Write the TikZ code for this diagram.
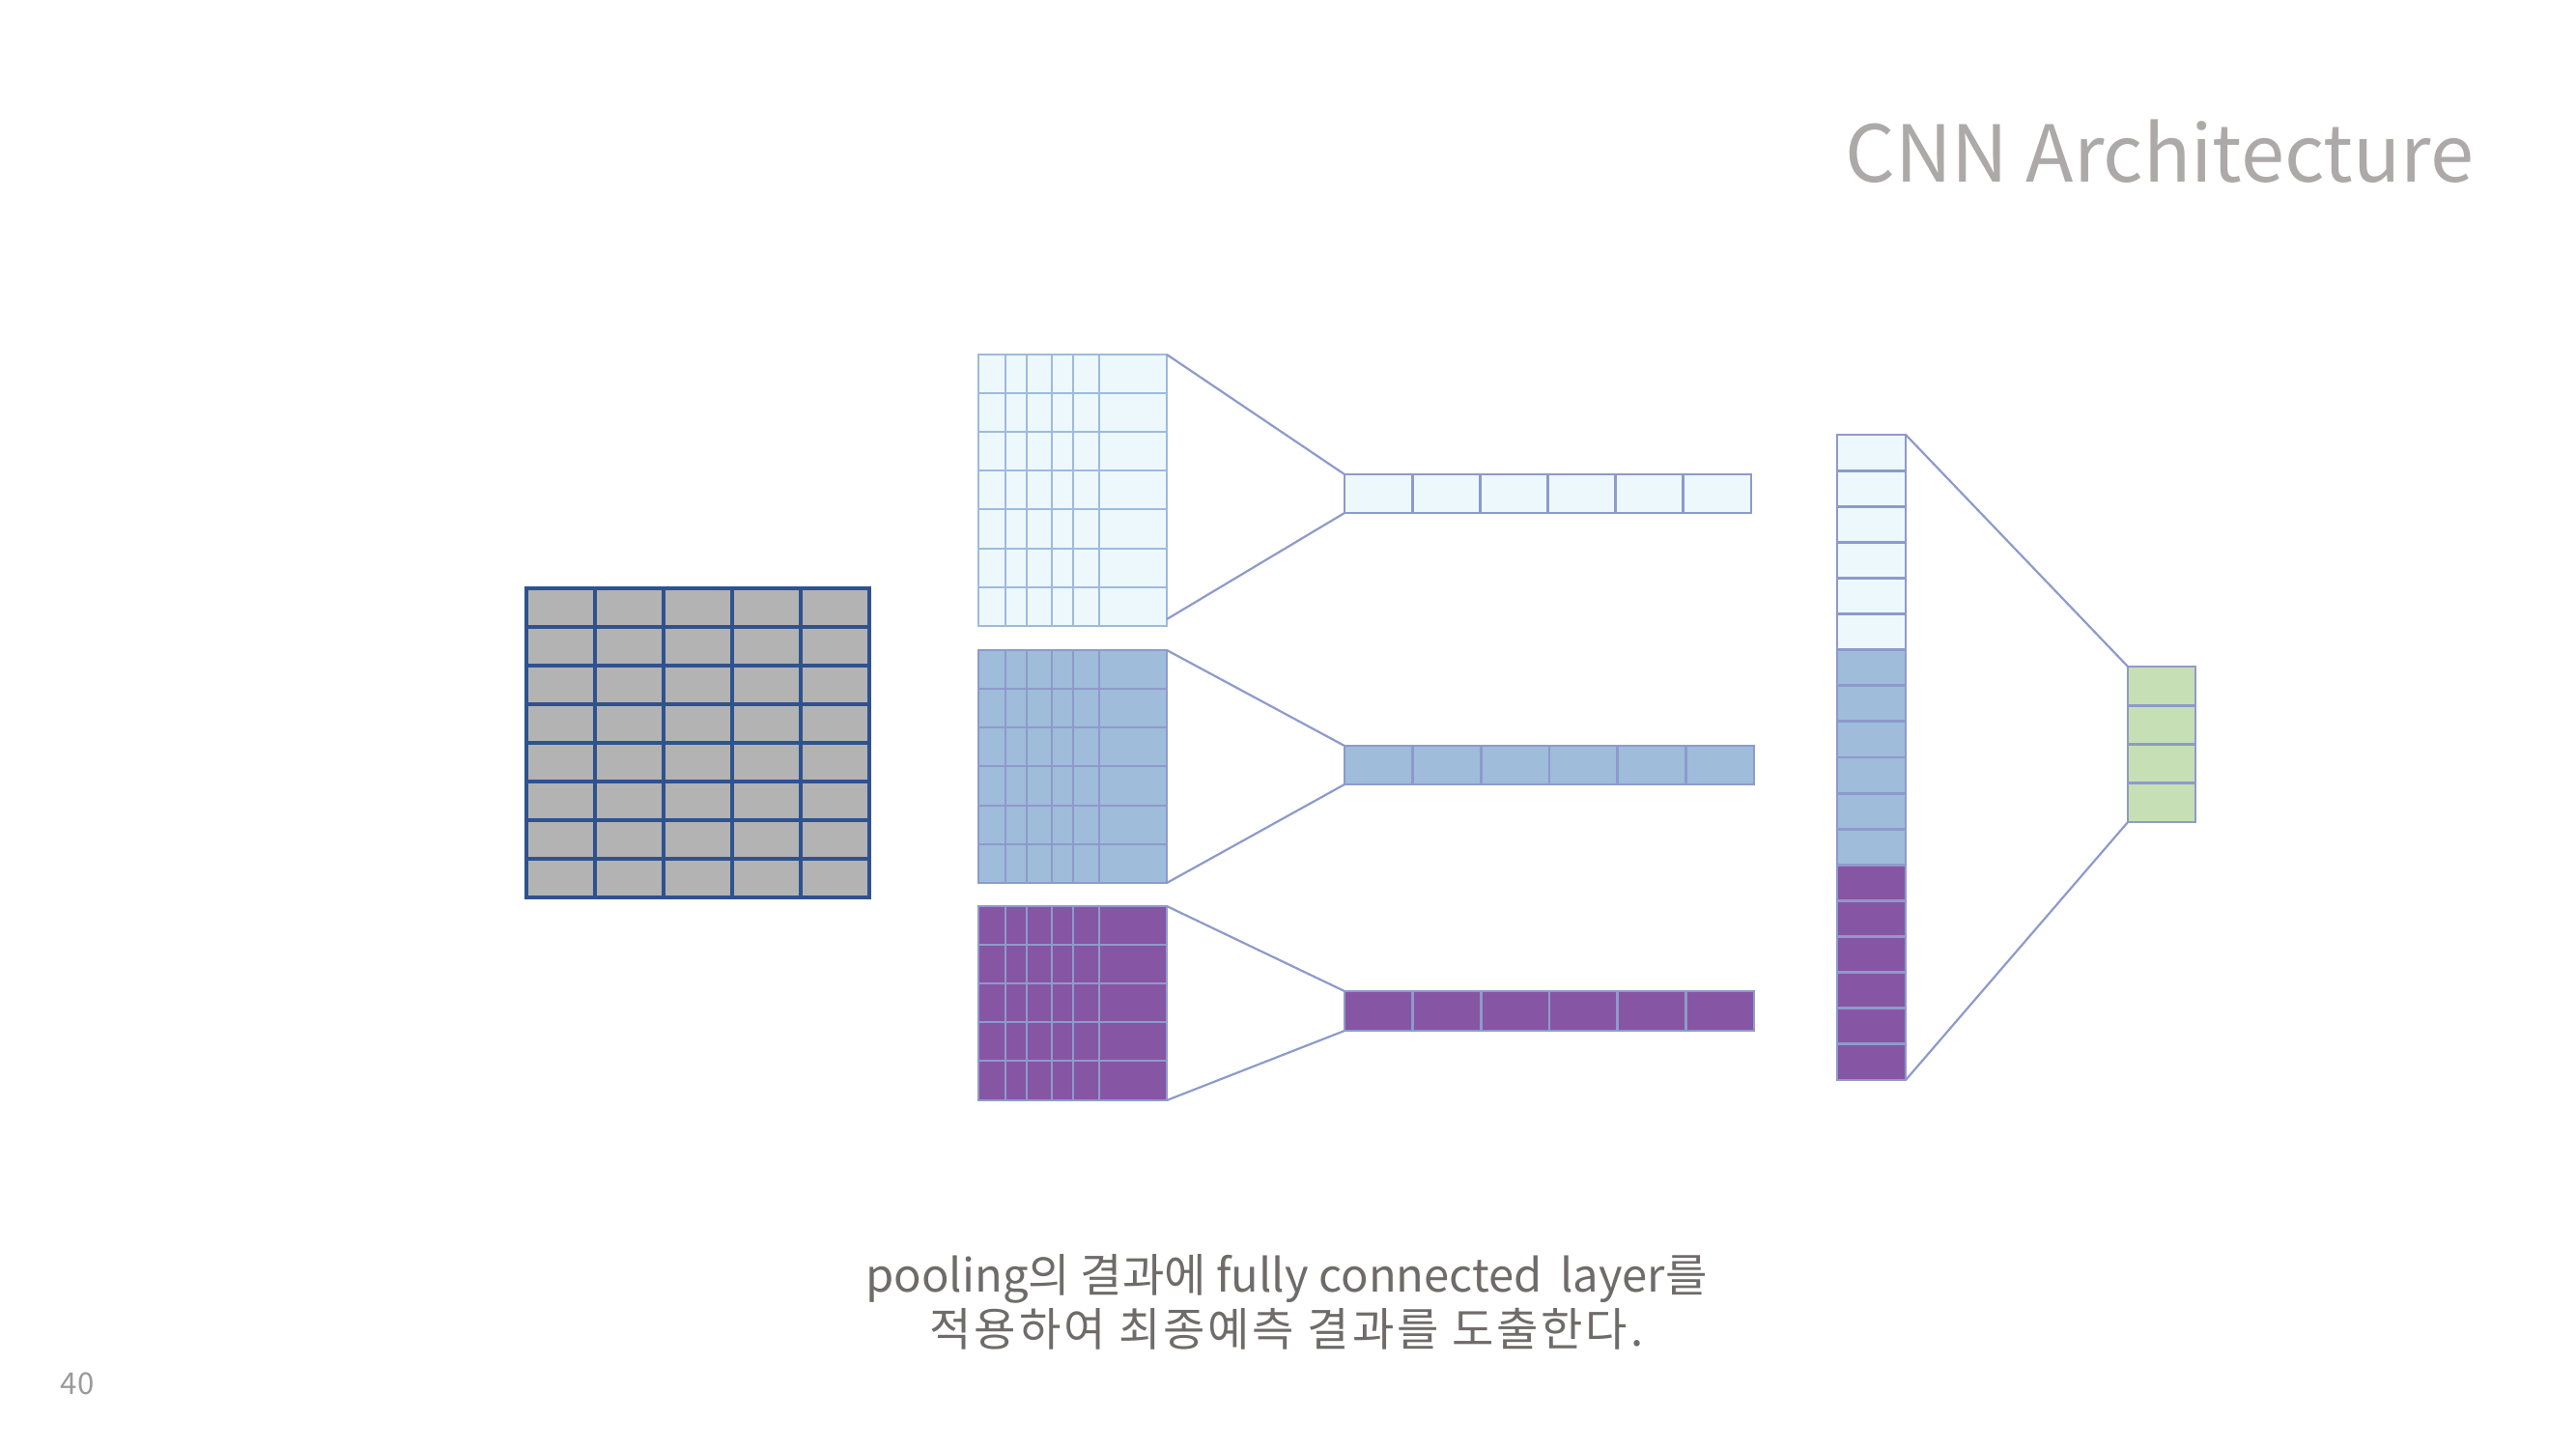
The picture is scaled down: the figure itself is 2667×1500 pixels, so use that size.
\documentclass[tikz,border=0pt]{standalone}
\usepackage{fontspec}
\setmainfont{Noto Sans CJK KR}
\usetikzlibrary{calc}
\definecolor{inputfill}{HTML}{B3B3B3}
\definecolor{inputline}{HTML}{2F528F}
\definecolor{lightfill}{HTML}{EDF8FC}
\definecolor{lightline}{HTML}{9EBADD}
\definecolor{bluefill}{HTML}{9FBCDB}
\definecolor{purplefill}{HTML}{8655A3}
\definecolor{greenfill}{HTML}{C6DFB4}
\definecolor{lavline}{HTML}{8E9ACB}
\definecolor{titlegray}{HTML}{ADA9A8}
\definecolor{textgray}{HTML}{6F6B6A}
\definecolor{numgray}{HTML}{9A9A9A}
\tikzset{
  frame/.style={draw=#1, line width=0.7pt, inner sep=0pt, outer sep=0pt, anchor=north west},
  gridline/.style={draw=#1, line width=0.7pt},
  conn/.style={draw=lavline, line width=0.55pt},
}
\begin{document}
\begin{tikzpicture}[x=0.25pt, y=-0.25pt]
\useasboundingbox (0,0) rectangle (2667,1500);
% ---- input grid
\fill[inputfill] (545,609) rectangle (900,929);
\foreach \xx in {616,687,758,829} \draw[gridline=inputline, line width=0.8pt] (\xx,609) -- (\xx,929);
\foreach \yy in {649,689,729,769,809,849,889} \draw[gridline=inputline, line width=0.8pt] (545,\yy) -- (900,\yy);
\node[frame=inputline, line width=0.8pt, minimum width=88.75pt, minimum height=80pt] (inp) at (545,609) {};
% ---- pooled grids
\fill[lightfill] (1013,367) rectangle (1208,648);
\foreach \xx in {1041,1063,1089,1111,1138} \draw[gridline=lightline] (\xx,367) -- (\xx,648);
\foreach \yy in {407,447,487,527,568,608} \draw[gridline=lightline] (1013,\yy) -- (1208,\yy);
\node[frame=lightline, minimum width=48.75pt, minimum height=70.25pt] (g1) at (1013,367) {};

\fill[bluefill] (1013,673) rectangle (1208,914);
\foreach \xx in {1041,1063,1089,1111,1138} \draw[gridline=lavline] (\xx,673) -- (\xx,914);
\foreach \yy in {713,753,793,834,874} \draw[gridline=lavline] (1013,\yy) -- (1208,\yy);
\node[frame=lavline, minimum width=48.75pt, minimum height=60.25pt] (g2) at (1013,673) {};

\fill[purplefill] (1013,938) rectangle (1208,1139);
\foreach \xx in {1041,1063,1089,1111,1138} \draw[gridline=lavline] (\xx,938) -- (\xx,1139);
\foreach \yy in {978,1018,1058,1098} \draw[gridline=lavline] (1013,\yy) -- (1208,\yy);
\node[frame=lavline, minimum width=48.75pt, minimum height=50.25pt] (g3) at (1013,938) {};
% ---- flattened bars
\fill[lightfill] (1392,491) rectangle (1813,531);
\foreach \i in {1,...,5} \draw[gridline=lavline] ({1392+\i*70.17},491) -- ({1392+\i*70.17},531);
\node[frame=lavline, minimum width=105.25pt, minimum height=10pt] (b1) at (1392,491) {};

\fill[bluefill] (1392,772) rectangle (1816,812);
\foreach \i in {1,...,5} \draw[gridline=lavline] ({1392+\i*70.67},772) -- ({1392+\i*70.67},812);
\node[frame=lavline, minimum width=106pt, minimum height=10pt] (b2) at (1392,772) {};

\fill[purplefill] (1392,1026) rectangle (1816,1067);
\foreach \i in {1,...,5} \draw[gridline=lavline] ({1392+\i*70.67},1026) -- ({1392+\i*70.67},1067);
\node[frame=lavline, minimum width=106pt, minimum height=10.25pt] (b3) at (1392,1026) {};
% ---- concatenated column
\fill[lightfill] (1902,450) rectangle (1973,672.7);
\fill[bluefill] (1902,672.7) rectangle (1973,895.3);
\fill[purplefill] (1902,895.3) rectangle (1973,1118);
\foreach \i in {1,...,17} \draw[gridline=lavline] (1902,{450+\i*37.11}) -- (1973,{450+\i*37.11});
\node[frame=lavline, minimum width=17.75pt, minimum height=167pt] (col) at (1902,450) {};
% ---- output
\fill[greenfill] (2203,690) rectangle (2273,851);
\foreach \yy in {730.25,770.5,810.75} \draw[gridline=lavline] (2203,\yy) -- (2273,\yy);
\node[frame=lavline, minimum width=17.5pt, minimum height=40.25pt] (out) at (2203,690) {};
% ---- connectors
\draw[conn] (g1.north east) -- (b1.north west);
\draw[conn] ($(g1.south east)+(0,-7)$) -- (b1.south west);
\draw[conn] (g2.north east) -- (b2.north west);
\draw[conn] (g2.south east) -- (b2.south west);
\draw[conn] (g3.north east) -- (b3.north west);
\draw[conn] (g3.south east) -- (b3.south west);
\draw[conn] (col.north east) -- (out.north west);
\draw[conn] (col.south east) -- (out.south west);
% ---- texts
\node[anchor=base east, inner sep=0pt, text=titlegray, font=\fontsize{20.3pt}{24pt}\selectfont] (title) at (2562,188) {CNN Architecture};
\node[anchor=base, inner sep=0pt, text=textgray, align=center, font=\fontsize{11.8pt}{11.6pt}\selectfont] (cap) at (1332,1393) {pooling의 결과에 fully connected\, layer를\\{\addfontfeature{LetterSpace=6}적용하여 최종예측 결과를 도출한다.}};
\node[anchor=base west, inner sep=0pt, text=numgray, font=\fontsize{7.8pt}{9pt}\selectfont] (pg) at (62,1443) {40};
\end{tikzpicture}
\end{document}
